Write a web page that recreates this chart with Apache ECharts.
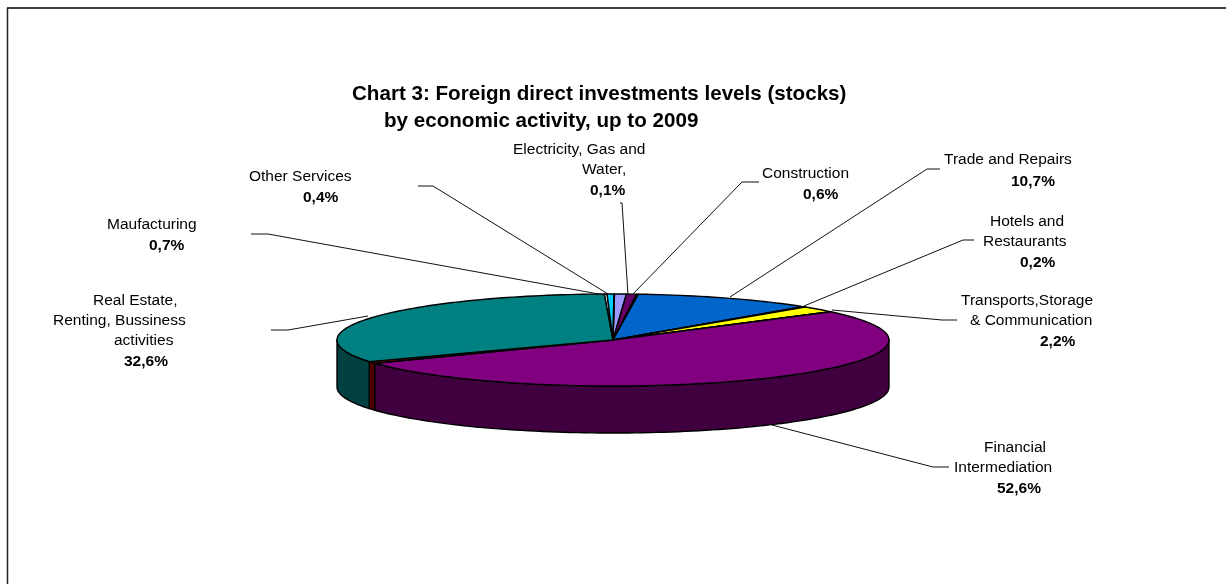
<!DOCTYPE html>
<html>
<head>
<meta charset="utf-8">
<title>Foreign direct investments by economic activity</title>
<script src="https://cdn.jsdelivr.net/npm/echarts@6/dist/echarts.min.js"></script>
<style>
  html, body { margin: 0; padding: 0; background: #fff; }
  #chart { width: 1226px; height: 584px; }
</style>
</head>
<body>
<div id="chart"></div>
<script>
// Slices in clockwise order from twelve o'clock (percent of the FDI stock).
const sliceNames = ['Maufacturing', 'Construction', 'Electricity, Gas and Water', 'Trade and Repairs',
  'Hotels and Restaurants', 'Transports,Storage & Communication', 'Other activities a', 'Financial Intermediation',
  'Other activities b', 'Real Estate, Renting, Bussiness activities', 'Other activities c', 'Other Services', 'Other activities d'];
const sliceValues = [0.7, 0.6, 0.1, 10.7, 0.2, 2.2, 0.05, 52.6, 0.65, 32.6, 0.15, 0.4, 0.03];
const sliceColors = ['#9999FF', '#660066', '#993366', '#0066CC', '#000080', '#FFFF00', '#00FFFF', '#800080',
  '#800000', '#008080', '#FFFFFF', '#00CCFF', '#000080'];
const sideColors = ['#4D4D80', '#330033', '#4D1A33', '#003366', '#000040', '#808000', '#008080', '#400040',
  '#500000', '#004040', '#808080', '#006680', '#000040'];

// Text blocks beside the pie: regular name lines, then the bold value from sliceValues.
const calloutNames = [
  ['Electricity, Gas and', 'Water,'], ['Construction'], ['Trade and Repairs'], ['Hotels and', 'Restaurants'],
  ['Transports,Storage', '& Communication'], ['Financial', 'Intermediation'], ['Other Services'], ['Maufacturing'],
  ['Real Estate,', 'Renting, Bussiness', 'activities']
];
const calloutSlices = [2, 1, 3, 4, 5, 7, 11, 0, 9];

// Layout of the callouts: left edge and middle y of each text line, and the leader polyline.
const calloutLayout = [
  { lines: [[513, 150], [582, 170], [590, 191]], leader: [[620, 203], [622, 203], [628, 295]] },
  { lines: [[762, 174], [803, 195]], leader: [[759, 182], [742, 182], [632, 295]] },
  { lines: [[944, 160], [1011, 182]], leader: [[940, 169], [927, 169], [730, 297]] },
  { lines: [[990, 222], [983, 242], [1020, 263]], leader: [[974, 240], [963, 240], [804, 306]] },
  { lines: [[961, 301], [970, 321], [1040, 342]], leader: [[957, 320], [942, 320], [832, 310]] },
  { lines: [[984, 448], [954, 468], [997, 489]], leader: [[949, 467], [933, 467], [772, 425]] },
  { lines: [[249, 177], [303, 198]], leader: [[418, 186], [433, 186], [608, 294]] },
  { lines: [[107, 225], [149, 246]], leader: [[251, 234], [268, 234], [604, 295]] },
  { lines: [[93, 301], [53, 321], [114, 341], [124, 362]], leader: [[271, 330], [288, 330], [368, 316]] }
];

const titleLines = ['Chart 3: Foreign direct investments levels (stocks)', 'by economic activity, up to 2009'];

const FONT = '"Liberation Sans", Arial, sans-serif';
const START_ANGLE = 0.3;   // rotation of the first slice, degrees
const DEPTH = 47;          // wall height of the disc, pixels
const total = sliceValues.reduce((a, b) => a + b, 0);
const RAD = Math.PI / 180;

const startAngles = [];
sliceValues.reduce((acc, v, i) => {
  startAngles[i] = acc;
  return acc + v / total * 360;
}, START_ANGLE);

// Walks a rim arc and maps it through the hidden unit axes, which squash the circle into an ellipse.
function rimPoints(api, from, to) {
  const pts = [];
  const steps = Math.max(2, Math.ceil((to - from) / 1.5));
  for (let k = 0; k <= steps; k++) {
    const t = (from + (to - from) * k / steps) * RAD;
    pts.push(api.coord([Math.sin(t), Math.cos(t)]));
  }
  return pts;
}

function renderSlice(params, api) {
  const i = params.dataIndex;
  const from = startAngles[i];
  const to = from + api.value(2) / total * 360;
  const centre = api.coord([0, 0]);
  const edge = { stroke: '#000', lineWidth: 1.4, lineJoin: 'round' };
  const children = [];
  // Front wall: only the part of the rim facing the viewer.
  const wallFrom = Math.max(from, 90);
  const wallTo = Math.min(to, 270);
  if (wallTo > wallFrom) {
    const upper = rimPoints(api, wallFrom, wallTo);
    const lower = upper.map(p => [p[0], p[1] + DEPTH]).reverse();
    children.push({
      type: 'polygon',
      shape: { points: upper.concat(lower) },
      style: Object.assign({ fill: sideColors[i] }, edge)
    });
  }
  children.push({
    type: 'polygon',
    shape: { points: [centre].concat(rimPoints(api, from, to)) },
    style: Object.assign({ fill: sliceColors[i] }, edge)
  });
  return { type: 'group', children };
}

const graphics = [
  { type: 'line', z: 10, shape: { x1: 7, y1: 8, x2: 1226, y2: 8 }, style: { stroke: '#000', lineWidth: 1.5 } },
  { type: 'line', z: 10, shape: { x1: 7.5, y1: 8, x2: 7.5, y2: 584 }, style: { stroke: '#222', lineWidth: 1.5 } }
];
calloutNames.forEach((names, c) => {
  const layout = calloutLayout[c];
  const share = sliceValues[calloutSlices[c]].toFixed(1).replace('.', ',') + '%';
  graphics.push({
    type: 'polyline', z: 10,
    shape: { points: layout.leader },
    style: { stroke: '#111', lineWidth: 1, fill: 'none' }
  });
  names.concat(share).forEach((text, l) => {
    graphics.push({
      type: 'text', z: 11, x: layout.lines[l][0], y: layout.lines[l][1],
      style: {
        text, fill: '#000', verticalAlign: 'middle', align: 'left',
        font: (l === names.length ? 'bold ' : '') + '15.5px ' + FONT
      }
    });
  });
});

const chart = echarts.init(document.getElementById('chart'), null, { renderer: 'canvas' });
chart.setOption({
  backgroundColor: '#fff',
  animation: false,
  title: [
    { text: titleLines[0], left: 352, top: 84, padding: 0, textStyle: { fontFamily: FONT, fontWeight: 'bold', fontSize: 20.6, color: '#000' } },
    { text: titleLines[1], left: 384, top: 111, padding: 0, textStyle: { fontFamily: FONT, fontWeight: 'bold', fontSize: 20.6, color: '#000' } }
  ],
  grid: { left: 337, top: 294, width: 552, height: 92 },
  xAxis: { type: 'value', min: -1, max: 1, show: false },
  yAxis: { type: 'value', min: -1, max: 1, show: false },
  series: [{
    type: 'custom',
    coordinateSystem: 'cartesian2d',
    clip: false,
    renderItem: renderSlice,
    encode: { x: 0, y: 1 },
    data: sliceValues.map((v, i) => ({ name: sliceNames[i], value: [0, 0, v] }))
  }],
  graphic: { elements: graphics }
});
</script>
</body>
</html>
